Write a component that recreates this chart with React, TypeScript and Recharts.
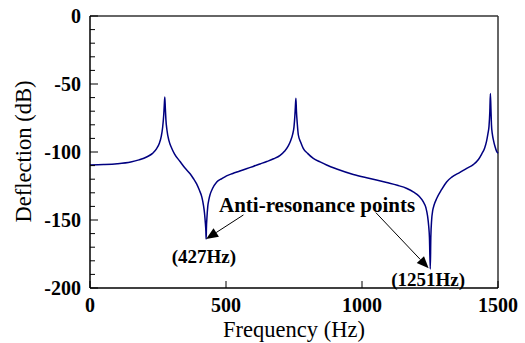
import React from 'react';
import { LineChart, Line, XAxis, YAxis, ReferenceLine, ReferenceDot } from 'recharts';

const frequencyHz = [
  0, 50, 100, 150, 180, 210, 230, 245, 255, 262, 267, 271, 273, 275, 277, 279, 283, 290, 300, 311,
  331, 350, 368, 380, 392, 402, 411, 417, 421, 424, 426, 427, 428, 430, 433, 437, 441, 450, 466, 485,
  502, 525, 551, 575, 600, 625, 650, 675, 699, 715, 729, 738, 745, 750, 753, 755, 757, 759, 762, 766,
  775, 784, 800, 821, 846, 870, 907, 968, 1029, 1091, 1130, 1165, 1190, 1210, 1225, 1235, 1241, 1245, 1248, 1251,
  1253, 1256, 1260, 1265, 1275, 1293, 1311, 1330, 1360, 1385, 1409, 1428, 1440, 1451, 1458, 1463, 1467, 1470, 1472, 1474,
  1476, 1479, 1484, 1489, 1495, 1500,
];

const deflectionDb = [
  -109.5, -109.2, -108.6, -107.3, -105.8, -103.5, -101, -97.5, -93.5, -88.5, -82, -73, -66, -59.5, -68, -76, -84, -91.5, -97, -101.5,
  -107, -112, -116, -119.5, -123.5, -128, -133, -139, -145, -152, -158, -164, -156, -148, -140, -135, -131.6, -127, -122, -119.5,
  -117.5, -115.8, -114, -112.3, -110.6, -108.8, -107, -105, -102.5, -99.5, -95.5, -91.5, -87, -81.5, -74, -67, -60.5, -70, -79, -87.5,
  -93, -97.3, -101, -104.7, -107.3, -109.6, -112.5, -116.5, -119.5, -122.5, -124.5, -126.8, -129.5, -132.5, -136.5, -141, -147, -154, -163, -186,
  -163, -150, -143, -139, -134, -127.5, -122, -118.5, -115, -112, -109.3, -105.5, -101.5, -97, -92, -86.5, -81, -70, -57, -68,
  -80, -86.5, -92, -96, -99.5, -101,
];

const xTicks = [0, 500, 1000, 1500];
const yTicks = [
  -200, -190, -180, -170, -160, -150, -140, -130, -120, -110, -100,
  -90, -80, -70, -60, -50, -40, -30, -20, -10, 0,
];
const yLabelStep = 50;

const arrows = [
  { from: { x: 564, y: -146.3 }, to: { x: 427, y: -164 } },
  { from: { x: 1051, y: -144.6 }, to: { x: 1245, y: -185.5 } },
];

const notes = [
  { x: 835, y: -143.9, text: 'Anti-resonance points', size: 21 },
  { x: 419, y: -181.4, text: '(427Hz)', size: 19 },
  { x: 1243, y: -198.3, text: '(1251Hz)', size: 19 },
];

const data = frequencyHz.map((f, i) => ({ f, d: deflectionDb[i] }));

const FONT = '"Liberation Serif", "Times New Roman", serif';

const YTick = (props: any) => {
  const { x, y, payload } = props;
  const v = payload.value;
  const major = v % yLabelStep === 0;
  return (
    <g>
      <line x1={x} y1={y} x2={x + (major ? 8 : 5)} y2={y} stroke="#000" strokeWidth={1} />
      {major && (
        <text x={x - 9} y={y} dy="0.36em" textAnchor="end" fontFamily={FONT} fontWeight="bold" fontSize={20} fill="#000">
          {v}
        </text>
      )}
    </g>
  );
};

const XTick = (props: any) => {
  const { x, y, payload } = props;
  return (
    <g>
      <line x1={x} y1={y} x2={x} y2={y - 7} stroke="#000" strokeWidth={1} />
      <text x={x} y={y + 23.5} textAnchor="middle" fontFamily={FONT} fontWeight="bold" fontSize={20} fill="#000">
        {payload.value}
      </text>
    </g>
  );
};

const arrowShape = (props: any) => {
  const { x1, y1, x2, y2 } = props;
  const dx = x2 - x1;
  const dy = y2 - y1;
  const len = Math.sqrt(dx * dx + dy * dy) || 1;
  const ux = dx / len;
  const uy = dy / len;
  const hl = 12;
  const hw = 5;
  const bx = x2 - ux * hl;
  const by = y2 - uy * hl;
  return (
    <g>
      <line x1={x1} y1={y1} x2={bx} y2={by} stroke="#000" strokeWidth={1} />
      <polygon
        points={`${x2},${y2} ${bx - uy * hw},${by + ux * hw} ${bx + uy * hw},${by - ux * hw}`}
        fill="#000"
      />
    </g>
  );
};

export default function App() {
  return (
    <div style={{ position: 'absolute', left: 0, top: 0, background: '#fff' }}>
      <LineChart width={525} height={343} data={data} margin={{ top: 16, right: 27, left: 10, bottom: 0 }}>
        <XAxis
          dataKey="f"
          type="number"
          domain={[0, 1500]}
          ticks={xTicks}
          tickSize={0}
          tickMargin={0}
          tickLine={false}
          height={55}
          axisLine={{ stroke: '#000', strokeWidth: 1.5 }}
          tick={<XTick />}
          interval={0}
          label={{
            content: (p: any) => {
              const vb = p.viewBox;
              return (
                <text x={vb.x + vb.width / 2} y={vb.y + 48.5} textAnchor="middle" fontFamily={FONT} fontSize={22.5} fill="#000">
                  Frequency (Hz)
                </text>
              );
            },
          }}
        />
        <YAxis
          type="number"
          domain={[-200, 0]}
          ticks={yTicks}
          tickSize={0}
          tickMargin={0}
          tickLine={false}
          width={80}
          interval={0}
          axisLine={{ stroke: '#000', strokeWidth: 1.5 }}
          tick={<YTick />}
          label={{
            content: (p: any) => {
              const vb = p.viewBox;
              const cx = 31;
              const cy = vb.y + vb.height / 2 - 0.5;
              return (
                <text
                  x={cx}
                  y={cy}
                  transform={`rotate(-90 ${cx} ${cy})`}
                  textAnchor="middle"
                  fontFamily={FONT}
                  fontSize={22.5}
                  fill="#000"
                >
                  Deflection (dB)
                </text>
              );
            },
          }}
        />
        <ReferenceLine y={0} stroke="#333" strokeWidth={1.5} />
        <ReferenceLine x={1500} stroke="#333" strokeWidth={1.5} />
        <Line
          type="monotone"
          dataKey="d"
          stroke="#000080"
          strokeWidth={1.5}
          dot={false}
          isAnimationActive={false}
        />
        {arrows.map((a, i) => (
          <ReferenceLine key={`a${i}`} segment={[a.from, a.to]} shape={arrowShape} ifOverflow="visible" />
        ))}
        {notes.map((n, i) => (
          <ReferenceDot
            key={`n${i}`}
            x={n.x}
            y={n.y}
            r={0}
            ifOverflow="visible"
            shape={(p: any) => (
              <text x={p.cx} y={p.cy} textAnchor="middle" fontFamily={FONT} fontWeight="bold" fontSize={n.size} fill="#000">
                {n.text}
              </text>
            )}
          />
        ))}
      </LineChart>
    </div>
  );
}
